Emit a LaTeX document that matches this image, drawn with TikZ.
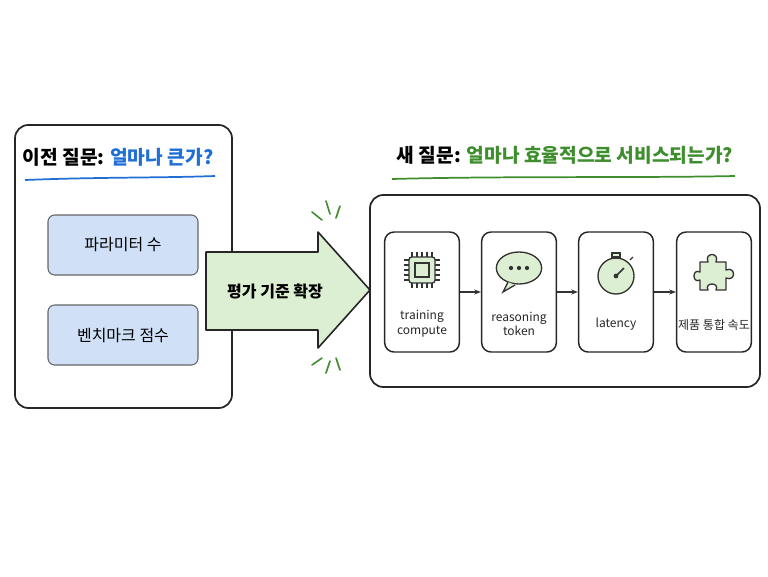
\documentclass[tikz,border=0pt]{standalone}
\usepackage{fontspec}
\setmainfont{Noto Sans CJK KR}
\usetikzlibrary{arrows.meta}
\definecolor{gfill}{HTML}{DDEFD2}
\definecolor{gline}{HTML}{3E8E2E}
\definecolor{bfill}{HTML}{CFE0F7}
\definecolor{bline}{HTML}{1F6FD6}
\begin{document}
\begin{tikzpicture}[x=0.75pt,y=-0.75pt,
  frame/.style={draw=black!85,line width=1.3pt,rounded corners=10pt},
  bbox/.style={draw=black!60,fill=bfill,line width=0.8pt,rounded corners=5pt,minimum width=112.5pt,minimum height=45pt,font=\large},
  ibox/.style={draw=black!85,line width=1.1pt,rounded corners=7pt,minimum width=56pt,minimum height=90pt},
  lbl/.style={font=\small,align=center,text=black!85},
  icon/.style={draw=black!80,fill=gfill,line width=1pt},
  conn/.style={-{Stealth[length=5pt]},line width=0.8pt,black!80}]
\useasboundingbox (0,0) rectangle (768,576);
% left
\draw[frame] (15,125) rectangle (232,408);
\node[font=\Large\bfseries] (t1) at (118,157) {이전 질문: \textcolor{bline}{얼마나 큰가?}};
\draw[bline,line width=1.3pt] (25,180) .. controls (100,177) and (160,178) .. (215,176);
\node[bbox] (p1) at (123,245) {파라미터 수};
\node[bbox] (p2) at (123,335) {벤치마크 점수};
% arrow
\draw[fill=gfill,draw=black!85,line width=1.2pt,line join=round]
 (206,252) -- (318,252) -- (318,232) -- (370,290) -- (318,348) -- (318,330) -- (206,330) -- cycle;
\node[font=\large\bfseries] (ar) at (275,291) {평가 기준 확장};
\draw[gline,line width=1.2pt,line cap=round] (312,212)--(322,220) (326,201)--(330,214) (340,206)--(336,218)
 (312,365)--(322,358) (326,373)--(330,361) (340,370)--(336,358);
% right
\node[font=\Large\bfseries] (t2) at (565,155) {새 질문: \textcolor{gline}{얼마나 효율적으로 서비스되는가?}};
\draw[gline,line width=1.3pt] (392,179) .. controls (500,176) and (640,178) .. (735,176);
\draw[frame] (370,195) rectangle (760,387);
\node[ibox] (b1) at (422,292) {};
\node[ibox] (b2) at (519,292) {};
\node[ibox] (b3) at (616,292) {};
\node[ibox] (b4) at (714,292) {};
\draw[conn] (b1) -- (b2);
\draw[conn] (b2) -- (b3);
\draw[conn] (b3) -- (b4);
\node[lbl] (l1) at (422,324) {training\\compute};
\node[lbl] (l2) at (519,324) {reasoning\\token};
\node[lbl] (l3) at (616,324) {latency};
\node[lbl] (l4) at (714,325) {제품 통합 속도};
% chip icon
\draw[icon,rounded corners=2pt] (409,257) rectangle (435,283);
\draw[black!80,line width=0.8pt] (415,263) rectangle (429,277);
\foreach \i in {0,...,4}{\draw[black!80,line width=0.8pt]
  ({412+5*\i},252)--({412+5*\i},257) ({412+5*\i},283)--({412+5*\i},288)
  (404,{260+5*\i})--(409,{260+5*\i}) (435,{260+5*\i})--(440,{260+5*\i});}
% speech bubble
\draw[icon] (519,268) ellipse (17pt and 12pt);
\draw[icon] (508,282) -- (503,292) -- (515,285);
\foreach \x in {511,519,527}{\fill[black!80] (\x,268) circle (1.6pt);}
% stopwatch
\draw[icon] (616,276) circle (13.5pt);
\draw[black!80,line width=1pt,fill=gfill] (612,253) rectangle (620,257);
\draw[black!80,line width=1pt] (616,257)--(616,259) (630,260)--(633,257);
\draw[black!80,line width=1.2pt] (616,276)--(624,268);
\fill[black!80] (616,276) circle (1.8pt);
% puzzle
\draw[icon,line join=round] (700,262) -- (708,262) .. controls (704,252) and (720,252) .. (716,262) -- (726,262) -- (726,270)
 .. controls (736,266) and (736,282) .. (726,278) -- (726,290) -- (716,290) .. controls (720,282) and (704,282) .. (708,290)
 -- (700,290) -- (700,280) .. controls (692,284) and (692,268) .. (700,272) -- cycle;
\end{tikzpicture}
\end{document}
